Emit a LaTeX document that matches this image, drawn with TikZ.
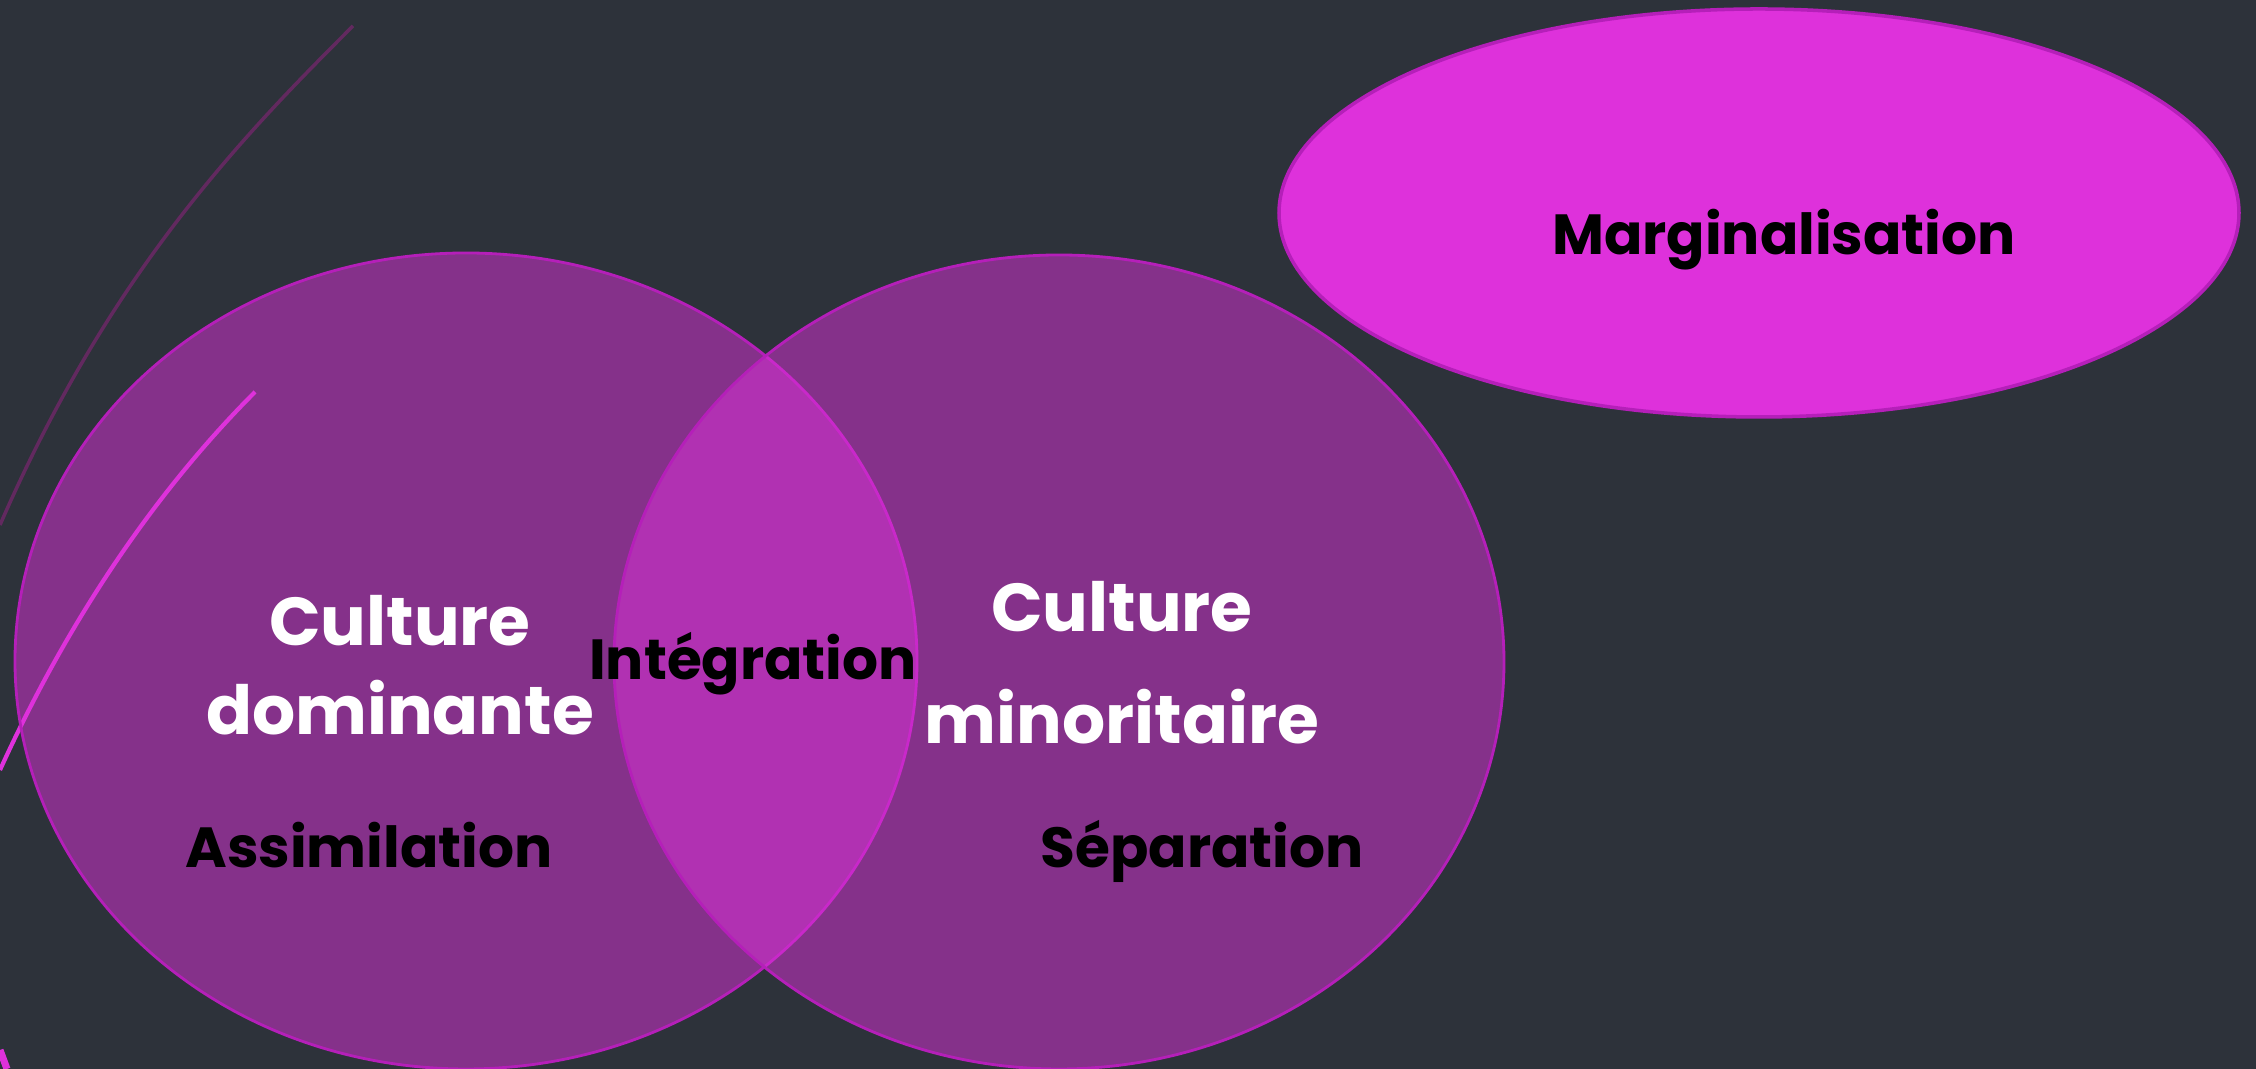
\documentclass[tikz,border=0pt]{standalone}
\usepackage{fontspec}
\setmainfont{Poppins}
\usepackage{xcolor}
\usepackage{tikz}
\usetikzlibrary{shapes.geometric}
\definecolor{slide}{HTML}{2D323A}
\definecolor{orchid}{HTML}{DE31DB}
\definecolor{orchidline}{HTML}{B51FB9}
\definecolor{swoosh}{HTML}{62295F}
\tikzset{%
  venn/.style = {ellipse, draw=orchidline, line width=0.8pt, fill=orchid, fill opacity=0.5, inner sep=0pt},
  marg/.style = {ellipse, draw=orchidline, line width=1pt, fill=orchid, inner sep=0pt},
  culture/.style = {text=white, font=\bfseries\fontsize{19.3}{23}\selectfont, align=center, anchor=base, inner sep=0pt},
  strategy/.style = {text=black, font=\bfseries\fontsize{16.1}{19}\selectfont, anchor=base, inner sep=0pt}
}

\begin{document}
\begin{tikzpicture}

  % Slide background and swooshes
  \fill[slide] (0,0) rectangle (22.56,10.69);
  \useasboundingbox (0,0) rectangle (22.56,10.69);
  \draw[swoosh, line width=1pt] (0,5.44) .. controls (1.1,7.97) and (2.43,9.33) .. (3.53,10.43);
  \draw[orchid, line width=1.2pt] (0,2.99) .. controls (0.8,4.75) and (1.75,5.97) .. (2.55,6.77);
  \draw[orchid, line width=2pt] (0,0.19) -- (0.07,0);

  % Specification of the ellipses
  \node (dominant) [venn, minimum width=9.02cm, minimum height=8.16cm] at (4.66,4.08) {};
  \node (minority) [venn, minimum width=8.90cm, minimum height=8.14cm] at (10.59,4.07) {};
  \node (margin) [marg, minimum width=9.60cm, minimum height=4.08cm] at (17.59,8.56) {};

  % Labels (base = baseline of the last line)
  \node (dom-label) [culture] at (4.00,3.34) {Culture\\[2.6pt]dominante};
  \node (min-label) [culture] at (11.22,3.25) {Culture\\[9.1pt]minoritaire};
  \node (integration) [strategy] at (7.53,3.89) {Intégration};
  \node (assimilation) [strategy] at (3.69,2.01) {Assimilation};
  \node (separation) [strategy] at (12.02,2.01) {Séparation};
  \node (marginal) [strategy] at (17.84,8.14) {Marginalisation};
\end{tikzpicture}
\end{document}
